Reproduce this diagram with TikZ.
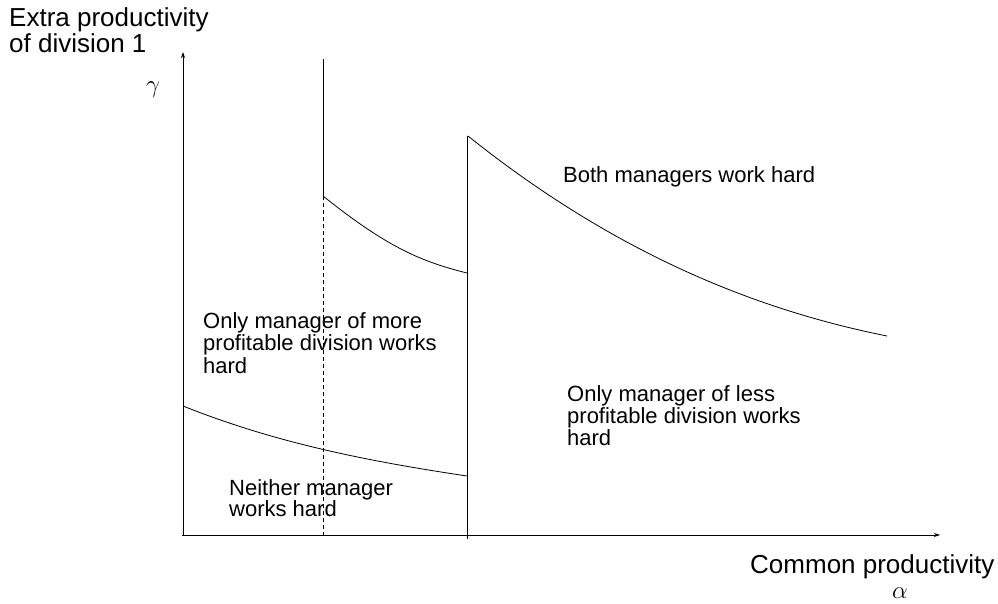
\documentclass[tikz,border=0pt]{standalone}
\usepackage{fontspec}
\setmainfont{Liberation Sans}
\usetikzlibrary{arrows.meta}
\begin{document}
\begin{tikzpicture}[x=1pt,y=-1pt,
  ln/.style={line width=0.8pt,black},
  axis/.style={ln,-{Stealth[length=6pt,width=4pt]}},
  dashln/.style={ln,dash pattern=on 4pt off 3pt},
  biglbl/.style={anchor=north west,inner sep=0pt,align=left,font=\fontsize{26}{26}\selectfont},
  lbl/.style={anchor=north west,inner sep=0pt,align=left,font=\fontsize{22}{22}\selectfont},
  sym/.style={inner sep=0pt,font=\fontsize{25}{25}\selectfont}]
\useasboundingbox (0,0) rectangle (998,604);
% axes
\coordinate (O) at (183,535);
\coordinate (ytop) at (183,52);
\coordinate (xstart) at (182,535);
\coordinate (xend) at (940,535);
\draw[axis] (O) -- (ytop);
\draw[axis] (xstart) -- (xend);
% first boundary (solid top, dashed below)
\coordinate (v1top) at (323,59);
\coordinate (v1mid) at (323,196);
\coordinate (v1bot) at (323,538);
\draw[ln] (v1top) -- (v1mid);
\draw[dashln] (v1mid) -- (v1bot);
% second boundary
\coordinate (v2top) at (467,136);
\coordinate (v2bot) at (467,539);
\draw[ln] (v2top) -- (v2bot);
% curves
\coordinate (a0) at (323,196); \coordinate (a1) at (467,273);
\draw[ln] (a0) .. controls (388,248) and (422,261.75) .. (a1);
\coordinate (b0) at (468,136); \coordinate (b1) at (887,336);
\draw[ln] (b0) .. controls (608,248) and (747,308) .. (b1);
\coordinate (c0) at (183,406); \coordinate (c1) at (467,476);
\draw[ln] (c0) .. controls (278,444) and (372,461.75) .. (c1);
% labels
\node[biglbl] (ylab) at (9,7) {Extra productivity\\of division 1};
\node[biglbl] (xlab) at (750,554) {Common productivity};
\node[sym] (gam) at (153,90) {$\gamma$};
\node[sym] (alp) at (900,593) {$\alpha$};
\node[lbl] (both) at (563,166) {Both managers work hard};
\node[lbl,font=\fontsize{22}{22.5}\selectfont] (more) at (203,312) {Only manager of more\\profitable division works\\hard};
\node[lbl] (less) at (567,385) {Only manager of less\\profitable division works\\hard};
\node[lbl,font=\fontsize{22}{21}\selectfont] (neither) at (229,479) {Neither manager\\works hard};
\end{tikzpicture}
\end{document}
